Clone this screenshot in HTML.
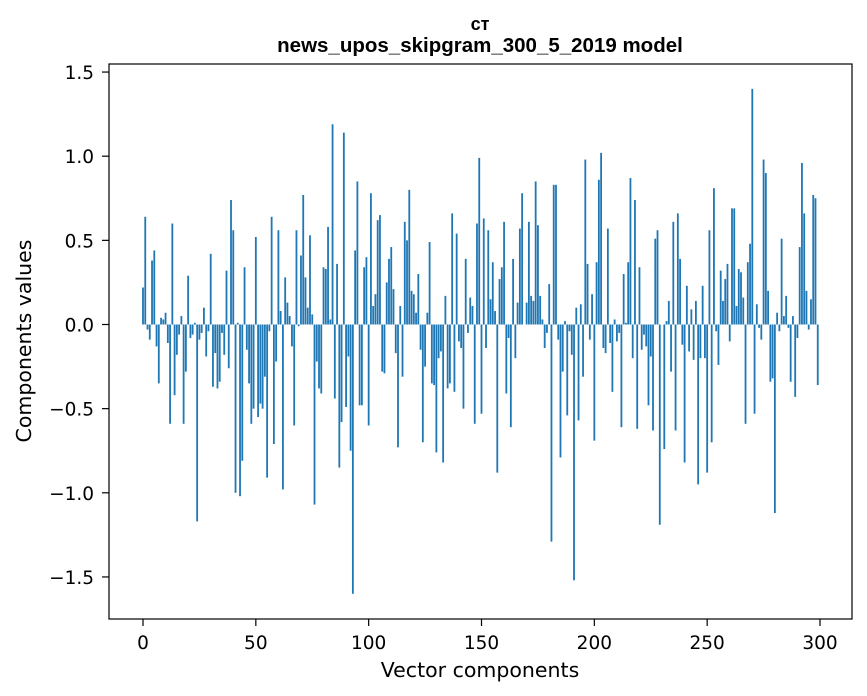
<!DOCTYPE html>
<html><head><meta charset="utf-8"><style>
body{margin:0;background:#fff;}
svg{display:block;font-family:"DejaVu Sans","Liberation Sans",sans-serif;}
</style></head><body>
<svg id="chart" width="867" height="696" viewBox="0 0 867 696">
<rect x="0" y="0" width="867" height="696" fill="#fff"/>
<text x="480" y="30" text-anchor="middle" font-size="18" font-weight="bold" font-family="Liberation Sans, sans-serif">ст</text>
<text x="480" y="52" text-anchor="middle" font-size="20.5" font-weight="bold" font-family="Liberation Sans, sans-serif">news_upos_skipgram_300_5_2019 model</text>
<g id="bars"></g>
<g id="xticks"></g>
<g id="yticks"></g>
<rect x="109" y="64" width="743" height="555" fill="none" stroke="#000" stroke-width="1.2"/>
<text x="480" y="677" text-anchor="middle" font-size="20.5">Vector components</text>
<text transform="translate(31,341) rotate(-90)" text-anchor="middle" font-size="20.5">Components values</text>
</svg>
<script>
const values = [
0.22,0.64,-0.03,-0.09,0.38,0.44,-0.13,-0.35,0.04,0.03,
0.07,-0.11,-0.59,0.60,-0.42,-0.18,-0.06,0.05,-0.59,-0.28,
0.29,-0.08,-0.06,0.01,-1.17,-0.09,-0.05,0.10,-0.19,-0.04,
0.42,-0.37,-0.17,-0.38,-0.34,-0.05,-0.18,0.32,-0.26,0.74,
0.56,-1.00,0.01,-1.02,-0.81,0.34,-0.15,-0.35,-0.59,-0.50,
0.52,-0.55,-0.47,-0.50,-0.31,-0.91,-0.04,0.64,-0.71,-0.22,
0.56,0.08,-0.98,0.28,0.13,0.05,-0.13,-0.60,0.56,-0.01,
0.41,0.77,0.28,0.10,0.53,0.06,-1.07,-0.22,-0.38,-0.41,
0.34,0.33,0.58,0.03,1.19,-0.44,0.36,-0.85,-0.58,1.14,
-0.49,-0.19,-0.75,-1.60,0.44,0.85,-0.48,-0.48,0.34,0.40,
-0.60,0.78,0.11,0.18,0.62,0.65,-0.28,-0.29,0.25,0.39,
0.46,0.21,-0.17,-0.73,0.11,-0.31,0.61,0.50,0.80,0.20,
0.18,0.07,0.30,-0.15,-0.70,-0.25,0.07,0.49,-0.35,-0.36,
-0.76,-0.20,-0.16,-0.82,0.17,-0.38,-0.35,0.66,-0.40,0.54,
-0.10,-0.14,-0.50,0.39,-0.05,0.16,0.11,-0.59,0.60,0.99,
-0.53,0.63,-0.14,0.56,0.15,0.37,0.08,-0.88,0.27,0.34,
0.61,-0.41,-0.08,-0.61,0.39,-0.20,0.13,0.57,0.78,0.00,
0.13,0.61,0.17,0.14,0.85,0.59,0.17,0.03,-0.14,-0.05,
0.24,-1.29,0.83,0.83,-0.09,-0.79,-0.28,0.02,-0.54,-0.04,
-0.18,-1.52,0.10,-0.57,0.12,-0.31,0.98,0.36,-0.09,0.18,
-0.69,0.37,0.86,1.02,-0.14,-0.17,0.57,-0.11,-0.40,0.03,
-0.10,-0.05,-0.61,0.30,0.01,0.37,0.87,-0.20,0.74,-0.62,
0.34,-0.15,-0.06,-0.13,-0.48,-0.19,-0.63,0.51,0.56,-1.19,
0.00,-0.74,0.02,0.14,-0.28,0.61,-0.63,0.66,0.39,-0.12,
-0.82,0.23,-0.16,0.09,-0.21,0.14,-0.95,-0.20,0.23,-0.20,
-0.88,0.56,-0.70,0.81,-0.04,-0.24,0.32,0.14,0.27,0.36,
-0.10,0.69,0.69,0.11,0.33,0.31,0.16,-0.59,0.37,0.48,
1.40,-0.53,0.12,-0.02,-0.09,0.98,0.90,0.20,-0.34,-0.32,
-1.12,0.07,-0.04,0.51,0.05,0.17,-0.02,-0.34,0.05,-0.43,
-0.08,0.46,0.96,0.66,0.20,-0.03,0.15,0.77,0.75,-0.36
];
const xTickValues = [0,50,100,150,200,250,300];
const yTickValues = [-1.5,-1.0,-0.5,0.0,0.5,1.0,1.5];
const yTickLabels = ["\u22121.5","\u22121.0","\u22120.5","0.0","0.5","1.0","1.5"];

const NS = "http://www.w3.org/2000/svg";
const X0 = 143, XS = (820 - 143) / 300;
const Y0 = 324.5, YS = 168.3;
function xScale(v){ return X0 + v * XS; }
function yScale(v){ return Y0 - v * YS; }

const barsG = document.getElementById('bars');
values.forEach((v, i) => {
  const r = document.createElementNS(NS, 'rect');
  const x1 = xScale(i - 0.4), x2 = xScale(i + 0.4);
  const ya = yScale(Math.max(v, 0)), yb = yScale(Math.min(v, 0));
  r.setAttribute('x', x1);
  r.setAttribute('width', x2 - x1);
  r.setAttribute('y', ya);
  r.setAttribute('height', Math.max(yb - ya, 0));
  r.setAttribute('fill', '#1f77b4');
  
  
  barsG.appendChild(r);
});

const xg = document.getElementById('xticks');
xTickValues.forEach(t => {
  const x = xScale(t);
  const l = document.createElementNS(NS, 'line');
  l.setAttribute('x1', x); l.setAttribute('x2', x);
  l.setAttribute('y1', 619); l.setAttribute('y2', 626);
  l.setAttribute('stroke', '#000'); l.setAttribute('stroke-width', '1.2');
  
  
  xg.appendChild(l);
  const tx = document.createElementNS(NS, 'text');
  tx.setAttribute('x', x); tx.setAttribute('y', 649);
  tx.setAttribute('text-anchor', 'middle'); tx.setAttribute('font-size', '18.5');
  tx.textContent = String(t);
  
  
  xg.appendChild(tx);
});

const yg = document.getElementById('yticks');
yTickValues.forEach((t, k) => {
  const y = yScale(t);
  const l = document.createElementNS(NS, 'line');
  l.setAttribute('x1', 102); l.setAttribute('x2', 109);
  l.setAttribute('y1', y); l.setAttribute('y2', y);
  l.setAttribute('stroke', '#000'); l.setAttribute('stroke-width', '1.2');
  
  
  yg.appendChild(l);
  const tx = document.createElementNS(NS, 'text');
  tx.setAttribute('x', 94); tx.setAttribute('y', y + 7);
  tx.setAttribute('text-anchor', 'end'); tx.setAttribute('font-size', '18.5');
  tx.textContent = yTickLabels[k];
  
  
  yg.appendChild(tx);
});
</script>
</body></html>
